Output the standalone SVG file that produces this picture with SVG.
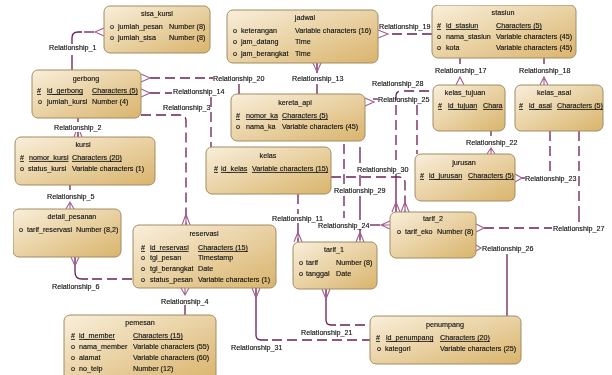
<svg xmlns="http://www.w3.org/2000/svg" width="612" height="375" viewBox="0 0 612 375">
<style>
text{font-family:"Liberation Sans",Arial,sans-serif;font-size:7.2px;fill:#0c0c0c;stroke:#0c0c0c;stroke-width:.12}
.t{text-anchor:middle}
.k{text-decoration:underline}
.box{fill:url(#g);stroke:#a08c62;stroke-width:1}
.s{fill:none;stroke:#6a1f55;stroke-width:1.3}
.d{fill:none;stroke:#6a1f55;stroke-width:1.3;stroke-dasharray:10 5}
.c{fill:none;stroke:#a05f90;stroke-width:1.1}
</style>
<defs>
<linearGradient id="g" x1="0" y1="0" x2="1" y2="1"><stop offset="0" stop-color="#f9efdb"/><stop offset="1" stop-color="#d9b46c"/></linearGradient>
<filter id="b" x="0" y="0" width="1" height="1"><feGaussianBlur stdDeviation="0.25"/></filter>
</defs>
<rect width="612" height="375" fill="#fff"/>
<g filter="url(#b)">
<g id="connectors">
<path class="s" d="M72 70V55M72 44V38Q72 32 78 32H82"/><path class="d" d="M84 32H95"/><path class="c" d="M104 28L95 32L104 36"/>
<path class="s" d="M78 118V122M78 132V137"/><path class="c" d="M74 137L76 132M82 137L80 132M78 137V132"/>
<path class="d" d="M141 115H180Q186 115 186 121V225"/><path class="c" d="M182 225L186 214L190 225M186 225V214"/>
<path class="d" d="M150 93H172"/><path class="c" d="M141 89L150 93L141 97"/><path class="d" d="M211 97V147"/>
<path class="d" d="M150 78H209"/><path class="c" d="M141 74L150 78L141 82"/><path class="s" d="M213 78H209M239 84V94"/>
<path class="s" d="M317 63V73M317 84V94"/><path class="c" d="M313 63L317 72L321 63M317 63V72"/>
<path class="d" d="M392 34H432"/><path class="c" d="M378 30L388 34L378 38"/>
<path class="d" d="M396 160V96Q396 91 401 91H433"/><path class="s" d="M396 174V212"/><path class="c" d="M392 212L396 202L400 212M396 212V202"/>
<path class="d" d="M331 177H399Q405 177 405 183V212"/><path class="c" d="M401 212L405 202L409 212M405 212V202"/>
<path class="s" d="M373 99H378"/><path class="c" d="M365 98L374 102L365 106"/><path class="d" d="M417 105V154"/>
<path class="d" d="M344 144V186M344 196V218"/><path class="s" d="M370 225H380"/><path class="c" d="M390 221L381 225L390 229M390 225H381"/>
<path class="s" d="M360 147V163M360 175V186M360 196V220M360 229V240"/><path class="c" d="M356 242L360 232L364 242M360 242V232"/>
<path class="d" d="M298 194V214M298 223V242"/><path class="c" d="M294 242L298 232L302 242M298 242V232"/>
<path class="s" d="M460 58V64"/><path class="c" d="M456 85L460 77L464 85"/><path class="s" d="M544 58V64"/><path class="c" d="M540 85L544 77L548 85M544 85V77"/>
<path class="s" d="M491 131V136"/><path class="c" d="M487 154L491 148L495 154M491 154V148"/>
<path class="d" d="M550 131V172"/><path class="s" d="M521 178H525"/><path class="c" d="M515 174L522 178L515 182"/>
<path class="d" d="M579 131V209"/><path class="s" d="M579 209V222"/><path class="d" d="M484 228H552"/><path class="c" d="M476 224L484 228L476 232"/>
<path class="s" d="M507 254V316"/><path class="c" d="M476 245L481 248L476 251"/>
<path class="s" d="M326 289V320Q326 325 331 325H336"/><path class="d" d="M340 325H370"/><path class="c" d="M322 289L326 299L330 289M326 289V299"/>
<path class="s" d="M256 288V335Q256 340 261 340H268"/><path class="d" d="M272 340H370"/><path class="c" d="M252 288L256 298L260 288M256 288V298"/>
<path class="s" d="M185 305V315"/><path class="c" d="M181 288L185 295L189 288M185 288V295"/>
<path class="s" d="M70 185V190"/><path class="c" d="M66 209L70 202L74 209M70 209V202"/>
<path class="s" d="M75 257V272Q75 279 82 279H88"/><path class="d" d="M92 279H133"/><path class="c" d="M71 257L75 266L79 257M75 257V266"/>
</g>
<g id="sisa_kursi"><rect class="box" x="104" y="6" width="106" height="47" rx="6"/><text class="t" x="157" y="16">sisa_kursi</text><text x="110" y="29">o</text><text x="118" y="29">jumlah_pesan</text><text x="169" y="29">Number (8)</text><text x="110" y="40">o</text><text x="118" y="40">jumlah_sisa</text><text x="169" y="40">Number (8)</text></g>
<g id="gerbong"><rect class="box" x="32" y="70" width="109" height="48" rx="6"/><text class="t" x="86" y="81">gerbong</text><text class="k" x="37" y="93">#</text><text class="k" x="47" y="93">id_gerbong</text><text class="k" x="92" y="93">Characters (5)</text><text x="38" y="104">o</text><text x="47" y="104">jumlah_kursi</text><text x="92" y="104">Number (4)</text></g>
<g id="kursi"><rect class="box" x="15" y="137" width="140" height="48" rx="6"/><text class="t" x="83" y="147">kursi</text><text class="k" x="20" y="160">#</text><text class="k" x="29" y="160">nomor_kursi</text><text class="k" x="72" y="160">Characters (20)</text><text x="20" y="171">o</text><text x="28" y="171">status_kursi</text><text x="72" y="171">Variable characters (1)</text></g>
<g id="detail_pesanan"><rect class="box" x="13" y="209" width="108" height="48" rx="6"/><text class="t" x="72" y="219">detail_pesanan</text><text x="19" y="232">o</text><text x="27" y="232">tarif_reservasi</text><text x="76" y="232">Number (8,2)</text></g>
<g id="reservasi"><rect class="box" x="133" y="225" width="143" height="63" rx="6"/><text class="t" x="204" y="236">reservasi</text><text class="k" x="141" y="250">#</text><text class="k" x="150" y="250">id_reservasi</text><text class="k" x="198" y="250">Characters (15)</text><text x="141" y="260">o</text><text x="150" y="260">tgl_pesan</text><text x="198" y="260">Timestamp</text><text x="141" y="271">o</text><text x="150" y="271">tgl_berangkat</text><text x="198" y="271">Date</text><text x="141" y="282">o</text><text x="150" y="282">status_pesan</text><text x="198" y="282">Variable characters (1)</text></g>
<g id="pemesan"><rect class="box" x="64" y="315" width="152" height="66" rx="6"/><text class="t" x="140" y="325">pemesan</text><text class="k" x="71" y="338">#</text><text class="k" x="79" y="338">id_member</text><text class="k" x="133" y="338">Characters (15)</text><text x="71" y="349">o</text><text x="79" y="349">nama_member</text><text x="133" y="349">Variable characters (55)</text><text x="71" y="360">o</text><text x="79" y="360">alamat</text><text x="133" y="360">Variable characters (60)</text><text x="71" y="371">o</text><text x="79" y="371">no_telp</text><text x="133" y="371">Number (12)</text></g>
<g id="jadwal"><rect class="box" x="227" y="10" width="151" height="53" rx="6"/><text class="t" x="305" y="20">jadwal</text><text x="233" y="33">o</text><text x="241" y="33">keterangan</text><text x="295" y="33">Variable characters (16)</text><text x="233" y="44">o</text><text x="241" y="44">jam_datang</text><text x="295" y="44">Time</text><text x="233" y="56">o</text><text x="241" y="56">jam_berangkat</text><text x="295" y="56">Time</text></g>
<g id="kereta_api"><rect class="box" x="231" y="94" width="134" height="47" rx="6"/><text class="t" x="295" y="105">kereta_api</text><text class="k" x="236" y="118">#</text><text class="k" x="246" y="118">nomor_ka</text><text class="k" x="282" y="118">Characters (5)</text><text x="236" y="129">o</text><text x="246" y="129">nama_ka</text><text x="282" y="129">Variable characters (45)</text></g>
<g id="kelas"><rect class="box" x="206" y="147" width="125" height="47" rx="6"/><text class="t" x="268" y="158">kelas</text><text class="k" x="214" y="171">#</text><text class="k" x="221" y="171">id_kelas</text><text class="k" x="252" y="171">Variable characters (15)</text></g>
<g id="stasiun"><rect class="box" x="432" y="5" width="144" height="53" rx="6"/><text class="t" x="503" y="15">stasiun</text><text class="k" x="437" y="28">#</text><text class="k" x="446" y="28">id_stasiun</text><text class="k" x="496" y="28">Characters (5)</text><text x="437" y="39">o</text><text x="446" y="39">nama_stasiun</text><text x="496" y="39">Variable characters (45)</text><text x="437" y="50">o</text><text x="446" y="50">kota</text><text x="496" y="50">Variable characters (45)</text></g>
<g id="kelas_tujuan"><rect class="box" x="433" y="85" width="72" height="46" rx="6"/><text class="t" x="465" y="95">kelas_tujuan</text><text class="k" x="438" y="108">#</text><text class="k" x="448" y="108">id_tujuan</text><text class="k" x="483" y="108">Chara</text></g>
<g id="kelas_asal"><rect class="box" x="515" y="85" width="88" height="46" rx="6"/><text class="t" x="554" y="95">kelas_asal</text><text class="k" x="519" y="108">#</text><text class="k" x="529" y="108">id_asal</text><text class="k" x="557" y="108">Characters (5)</text></g>
<g id="jurusan"><rect class="box" x="415" y="154" width="100" height="47" rx="6"/><text class="t" x="464" y="165">jurusan</text><text class="k" x="420" y="178">#</text><text class="k" x="429" y="178">id_jurusan</text><text class="k" x="468" y="178">Characters (5)</text></g>
<g id="tarif_2"><rect class="box" x="390" y="212" width="86" height="46" rx="6"/><text class="t" x="433" y="221">tarif_2</text><text x="397" y="234">o</text><text x="405" y="234">tarif_eko</text><text x="437" y="234">Number (8)</text></g>
<g id="tarif_1"><rect class="box" x="293" y="242" width="84" height="47" rx="6"/><text class="t" x="334" y="252">tarif_1</text><text x="299" y="265">o</text><text x="306" y="265">tarif</text><text x="336" y="265">Number (8)</text><text x="299" y="276">o</text><text x="306" y="276">tanggal</text><text x="336" y="276">Date</text></g>
<g id="penumpang"><rect class="box" x="370" y="316" width="151" height="48" rx="6"/><text class="t" x="445" y="327">penumpang</text><text class="k" x="376" y="340">#</text><text class="k" x="386" y="340">id_penumpang</text><text class="k" x="440" y="340">Characters (20)</text><text x="377" y="351">o</text><text x="385" y="351">kategori</text><text x="440" y="351">Variable characters (25)</text></g>
<g id="labels">
<text x="49" y="50">Relationship_1</text><text x="54" y="130">Relationship_2</text><text x="163" y="110">Relationship_3</text><text x="161" y="304">Relationship_4</text><text x="47" y="199">Relationship_5</text><text x="52" y="289">Relationship_6</text>
<text x="272" y="221">Relationship_11</text><text x="292" y="81">Relationship_13</text><text x="173" y="94">Relationship_14</text><text x="435" y="73">Relationship_17</text><text x="519" y="73">Relationship_18</text><text x="379" y="29">Relationship_19</text><text x="213" y="81">Relationship_20</text><text x="301" y="335">Relationship_21</text><text x="466" y="145">Relationship_22</text><text x="525" y="181">Relationship_23</text><text x="318" y="228">Relationship_24</text><text x="378" y="102">Relationship_25</text><text x="482" y="251">Relationship_26</text><text x="553" y="231">Relationship_27</text><text x="372" y="86">Relationship_28</text><text x="334" y="193">Relationship_29</text><text x="357" y="172">Relationship_30</text><text x="231" y="350">Relationship_31</text>
</g>
</g>
</svg>
